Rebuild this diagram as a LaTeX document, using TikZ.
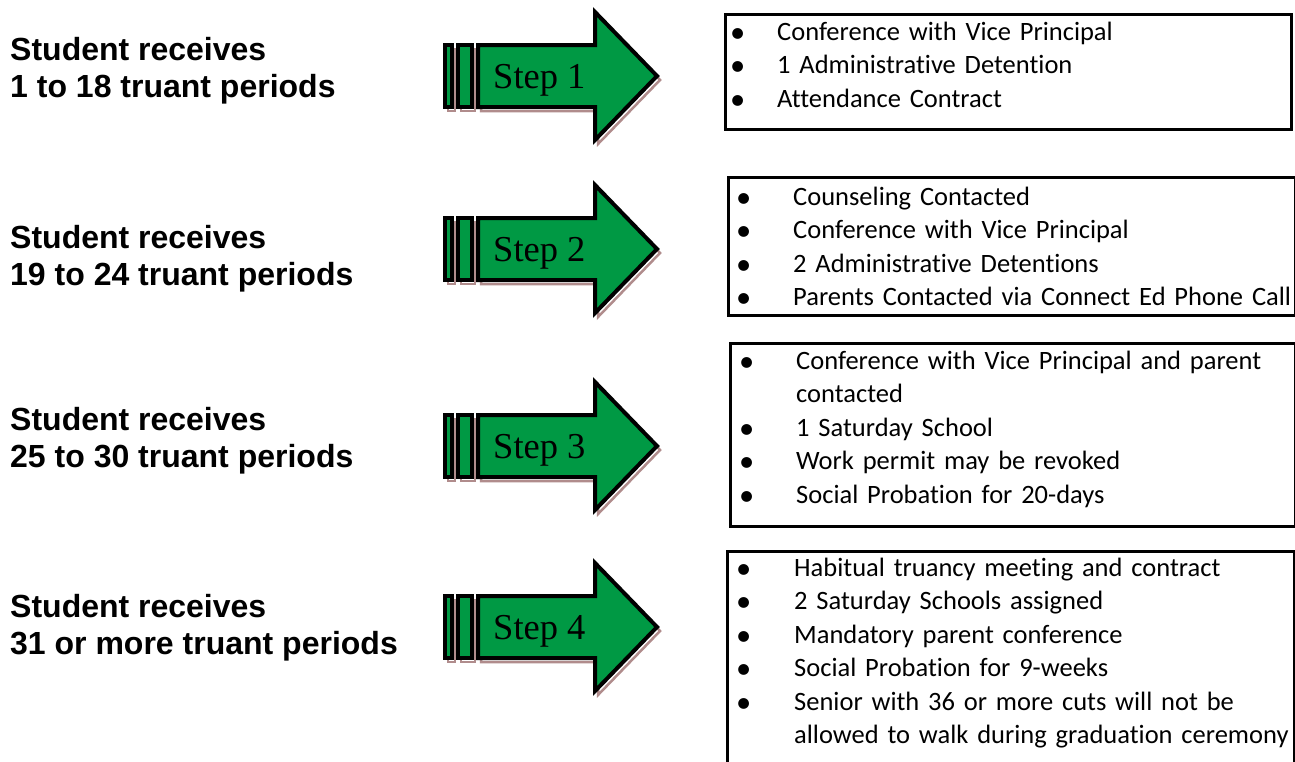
\documentclass[tikz,border=0pt]{standalone}
\usepackage{fontspec}
\setmainfont[Ligatures=NoCommon]{Carlito}
\newfontfamily\arialfont{Liberation Sans}
\newfontfamily\timesfont{Liberation Serif}
\definecolor{arrowgreen}{RGB}{0,153,68}
\definecolor{shadowbrown}{RGB}{176,140,140}
\newlength\bulind
\newcommand\bitem[1]{\makebox[\bulind][l]{\raisebox{-2pt}{\scalebox{1.15}{•}}}#1}
\newcommand\citem[1]{\hspace*{\bulind}#1}
\newcommand\arrowpath[1]{(478,{#1-31}) -- (595,{#1-31}) -- (595,{#1-64}) -- (657,{#1}) -- (595,{#1+64}) -- (595,{#1+31}) -- (478,{#1+31}) -- cycle}
\newcommand\steparrow[3]{%
  \begin{scope}[shift={(3,4)}]
    \draw[shadowbrown, line width=2.5] (445,{#1-31}) rectangle (452,{#1+31});
    \draw[shadowbrown, line width=2.5] (458,{#1-31}) rectangle (472,{#1+31});
    \draw[shadowbrown, line width=2.5] \arrowpath{#1};
  \end{scope}
  \draw[arrowshape] (445,{#1-31}) rectangle (452,{#1+31});
  \draw[arrowshape] (458,{#1-31}) rectangle (472,{#1+31});
  \draw[arrowshape] \arrowpath{#1};
  \node[steptext, anchor=base west] (#2) at (493,{#1+12}) {#3};
}
\begin{document}
\begin{tikzpicture}[x=1pt,y=-1pt,
  lab/.style={font=\arialfont\bfseries\fontsize{32}{37}\selectfont, inner sep=0pt},
  steptext/.style={font=\timesfont\fontsize{36.5}{40}\selectfont, inner sep=0pt},
  arrowshape/.style={draw=black, fill=arrowgreen, line width=4, line join=miter},
  boxst/.style={draw=black, line width=3, fill=white, inner sep=0pt, anchor=north west},
  listst/.style={font=\fontsize{26.5}{33.5}\selectfont, inner sep=0pt, text width=560pt, anchor=base west, align=left}]
\clip (0,0) rectangle (1295,761);
\useasboundingbox (0,0) rectangle (1295,761);
\fill[white] (0,0) rectangle (1295,761);

% left labels
\node[lab, anchor=base west] (l1a) at (10,60) {Student receives};
\node[lab, anchor=base west] (l1b) at (10,97) {1 to 18 truant periods};
\node[lab, anchor=base west] (l2a) at (10,248) {Student receives};
\node[lab, anchor=base west] (l2b) at (10,285) {19 to 24 truant periods};
\node[lab, anchor=base west] (l3a) at (10,430) {Student receives};
\node[lab, anchor=base west] (l3b) at (10,467) {25 to 30 truant periods};
\node[lab, anchor=base west] (l4a) at (10,617) {Student receives};
\node[lab, anchor=base west] (l4b) at (10,654) {31 or more truant periods};

% arrows
\steparrow{76}{s1}{Step 1}
\steparrow{249}{s2}{Step 2}
\steparrow{446}{s3}{Step 3}
\steparrow{627}{s4}{Step 4}

% boxes
\node[boxst, minimum width=566, minimum height=115] (b1) at (724,13) {};
\node[boxst, minimum width=567, minimum height=138] (b2) at (727,176) {};
\node[boxst, minimum width=565, minimum height=183] (b3) at (729,342) {};
\node[boxst, minimum width=567, minimum height=260] (b4) at (726,550) {};

\node[listst] (t1) at (730,40) {\setlength\bulind{47pt}%
\bitem{Conference with Vice Principal}\\
\bitem{1 Administrative Detention}\\
\bitem{Attendance Contract}};

\node[listst] (t2) at (736,205) {\setlength\bulind{57pt}%
\bitem{Counseling Contacted}\\
\bitem{Conference with Vice Principal}\\
\bitem{2 Administrative Detentions}\\
\bitem{Parents Contacted via Connect Ed Phone Call}};

\node[listst] (t3) at (739,369) {\setlength\bulind{57pt}%
\bitem{Conference with Vice Principal and parent}\\
\citem{contacted}\\
\bitem{1 Saturday School}\\
\bitem{Work permit may be revoked}\\
\bitem{Social Probation for 20-days}};

\node[listst] (t4) at (736,576) {\setlength\bulind{58pt}%
\bitem{Habitual truancy meeting and contract}\\
\bitem{2 Saturday Schools assigned}\\
\bitem{Mandatory parent conference}\\
\bitem{Social Probation for 9-weeks}\\
\bitem{Senior with 36 or more cuts will not be}\\
\citem{allowed to walk during graduation ceremony}};
\end{tikzpicture}
\end{document}
